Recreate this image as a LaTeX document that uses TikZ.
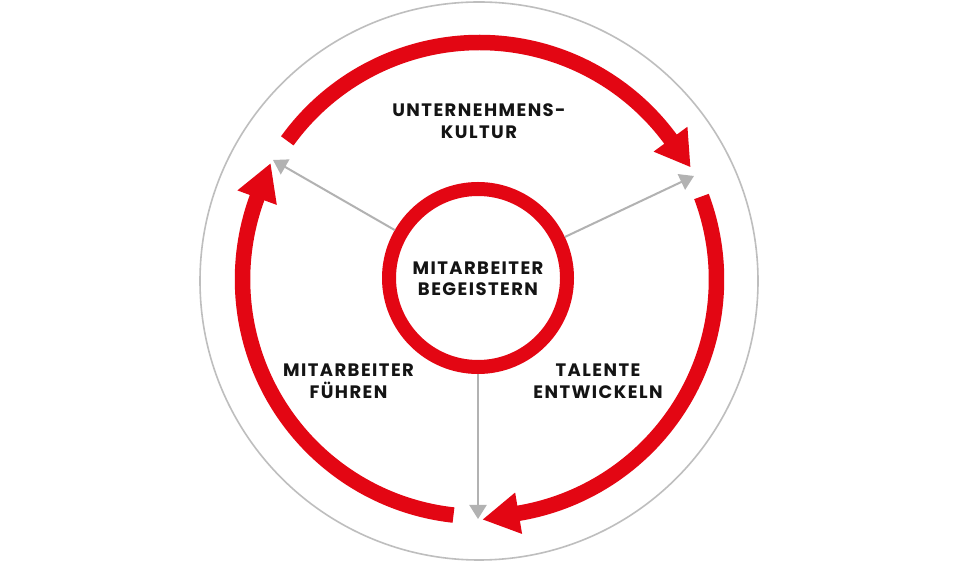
\documentclass[tikz,border=0pt]{standalone}
\usepackage{fontspec}
\setmainfont{Poppins}
\newfontfamily\lblfont[LetterSpace=8]{Poppins}
\usetikzlibrary{arrows.meta,calc}
\definecolor{cired}{RGB}{227,6,19}
\definecolor{cigray}{RGB}{178,178,178}
\definecolor{cicircle}{RGB}{190,190,190}
\definecolor{citext}{RGB}{20,20,20}
\tikzset{
  lbl/.style={font=\lblfont\bfseries\fontsize{18}{21.5}\selectfont, text=citext, align=center, inner sep=0pt},
  spoke/.style={draw=cigray, line width=2pt, -{Triangle[length=14pt,width=17pt]}},
  band/.style={draw=cired, line width=15.5pt},
  head/.style={fill=cired},
}
\begin{document}
\begin{tikzpicture}[x=1pt,y=1pt]
\useasboundingbox (0,0) rectangle (960,561);
\fill[white] (0,0) rectangle (960,561);
\draw[cicircle, line width=1.6pt] (479,280) circle (279);
\coordinate (C) at (479.5,281.5);
\coordinate (tl) at (273,401);
\coordinate (tr) at (694,385);
\coordinate (bt) at (478,42);
% gray spokes
\path (478,283) coordinate (cc);
\node[circle, draw=cired, line width=14pt, minimum size=178pt, inner sep=0pt] (core) at (cc) {};
\node[lbl] (coretext) at (478,282) {MITARBEITER\\BEGEISTERN};
\draw[spoke] (core) -- (tl);
\draw[spoke] (core) -- (tr);
\draw[spoke] (core) -- (bt);
% red arcs
\draw[band] ($(C)+(144.2:237)$) arc[start angle=144.2, end angle=36, radius=237];
\fill[head] ($(C)+(36.3:216)$) -- ($(C)+(28.1:239)$) -- ($(C)+(36.3:258)$) -- cycle;
\draw[band] ($(C)+(20.5:237)$) arc[start angle=20.5, end angle=-80.8, radius=237];
\fill[head] ($(C)+(-80.5:216)$) -- ($(C)+(-89.2:240)$) -- ($(C)+(-80.5:258)$) -- cycle;
\draw[band] ($(C)+(-96.3:237)$) arc[start angle=-96.3, end angle=-200.5, radius=237];
\fill[head] ($(C)+(-200.2:216)$) -- ($(C)+(-209:239)$) -- ($(C)+(-200.2:258)$) -- cycle;
% labels
\node[lbl] (kultur) at (479,440) {UNTERNEHMENS-\\KULTUR};
\node[lbl] (fuehren) at (348.5,180) {MITARBEITER\\FÜHREN};
\node[lbl] (talente) at (598,180) {TALENTE\\ENTWICKELN};
\end{tikzpicture}
\end{document}
